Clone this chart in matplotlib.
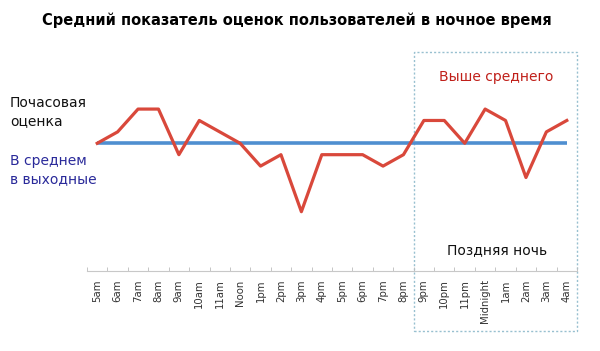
import numpy as np
import matplotlib.pyplot as plt
import matplotlib.transforms as mtransforms

# hourly rating (arbitrary scale; weekend average = 4.0)
hours = ["5am", "6am", "7am", "8am", "9am", "10am", "11am", "Noon", "1pm", "2pm",
         "3pm", "4pm", "5pm", "6pm", "7pm", "8pm", "9pm", "10pm", "11pm",
         "Midnight", "1am", "2am", "3am", "4am"]
hourly = [4.0, 4.1, 4.3, 4.3, 3.9, 4.2, 4.1, 4.0, 3.8, 3.9, 3.4, 3.9, 3.9, 3.9,
          3.8, 3.9, 4.2, 4.2, 4.0, 4.3, 4.2, 3.7, 4.1, 4.2]
weekend_avg = 4.0
late_night_start = "9pm"

fig = plt.figure(figsize=(6.0, 3.51), dpi=100)
ax = fig.add_axes([87 / 600, 80 / 351, 490 / 600, 221 / 351])

x = np.arange(len(hours))
ax.plot([x[0], x[-1]], [weekend_avg, weekend_avg], color="#4f8fd0", lw=2.6,
        solid_capstyle="butt", zorder=2)
ax.plot(x, hourly, color="#d9483b", lw=2.3, zorder=3)

ax.set_xlim(-0.5, len(hours) - 0.5)
ax.set_ylim(2.88, 4.818)

ax.set_xticks(x)
ax.set_xticklabels(hours, rotation=90, fontsize=7.3, color="#333333")
ax.tick_params(axis="x", which="major", length=0, pad=6)
ax.set_xticks(np.arange(-0.5, len(hours)), minor=True)
ax.tick_params(axis="x", which="minor", length=3, direction="in",
               color="#bbbbbb")
ax.set_yticks([])
for side in ["top", "right", "left"]:
    ax.spines[side].set_visible(False)
ax.spines["bottom"].set_color("#c8c8c8")

# dotted box around late night hours
i0 = hours.index(late_night_start) - 0.5
trans = mtransforms.blended_transform_factory(ax.transData, ax.transAxes)
box = plt.Rectangle((i0, -0.2715), len(hours) - 0.5 - i0, 0.99 + 0.2715,
                    transform=trans, fill=False, ls=(0, (1.5, 1.5)), lw=1,
                    edgecolor="#98c0d0", clip_on=False, zorder=1)
ax.add_patch(box)

fig.text(297 / 600, 1 - 20 / 351,
         "Средний показатель оценок пользователей в ночное время",
         ha="center", va="center", fontsize=10.5, fontweight="bold")
fig.text(10 / 600, 1 - 112 / 351, "Почасовая\nоценка", ha="left",
         va="center", fontsize=10, linespacing=1.35, color="#111111")
fig.text(10 / 600, 1 - 170 / 351, "В среднем\nв выходные", ha="left",
         va="center", fontsize=10, linespacing=1.35, color="#2a2a9a")
fig.text(496 / 600, 1 - 77 / 351, "Выше среднего", ha="center",
         va="center", fontsize=10, color="#c0201a")
fig.text(497 / 600, 1 - 250 / 351, "Поздняя ночь", ha="center",
         va="center", fontsize=10, color="#111111")

fig.savefig("out.png", dpi=100)
